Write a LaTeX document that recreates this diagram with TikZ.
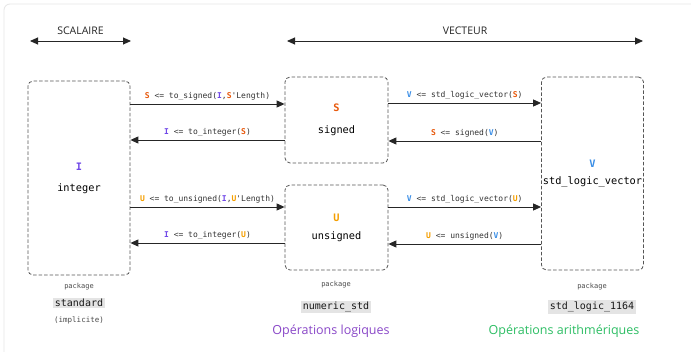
\documentclass[tikz,border=0pt]{standalone}
\usepackage{fontspec}
\setmainfont{Open Sans}
\setmonofont{DejaVu Sans Mono}
\usetikzlibrary{arrows.meta}
\definecolor{cS}{HTML}{E8590C}
\definecolor{cU}{HTML}{F59F00}
\definecolor{cI}{HTML}{7048E8}
\definecolor{cV}{HTML}{3A8EE6}
\definecolor{cLog}{HTML}{8A48C8}
\definecolor{cAri}{HTML}{2DBE64}
\definecolor{boxline}{HTML}{555555}
\definecolor{framec}{HTML}{E6E6E6}
\definecolor{pkgbg}{HTML}{E4E4E4}
\newcommand{\vS}{\textcolor{cS}{\bfseries S}}
\newcommand{\vU}{\textcolor{cU}{\bfseries U}}
\newcommand{\vI}{\textcolor{cI}{\bfseries I}}
\newcommand{\vV}{\textcolor{cV}{\bfseries V}}
\tikzset{
  typebox/.style={draw=boxline, line width=0.8pt, dash pattern=on 3.5pt off 2pt,
    rounded corners=5pt, align=center, inner sep=0pt,
    font=\ttfamily\fontsize{10.3}{12}\selectfont},
  conv/.style={draw=black!85, line width=0.9pt, -{Triangle[length=8pt,width=7pt]}},
  span/.style={draw=black!85, line width=0.9pt, {Triangle[length=8pt,width=7pt]}-{Triangle[length=8pt,width=7pt]}},
  lbl/.style={above=3pt, inner sep=0pt, text=black!80, font=\ttfamily\fontsize{8}{9.6}\selectfont},
  head/.style={inner sep=0pt, text=black!85, font=\fontsize{10.5}{12}\selectfont},
  pkg/.style={inner sep=0pt, text=black!70, font=\ttfamily\fontsize{7}{8}\selectfont},
  pkgname/.style={fill=pkgbg, inner sep=1.5pt, text=black!90, font=\ttfamily\fontsize{10}{12}\selectfont},
  ops/.style={inner sep=0pt, font=\fontsize{12.5}{15}\selectfont}
}
\begin{document}
\begin{tikzpicture}[x=1pt,y=-1pt]
\useasboundingbox (0,0) rectangle (691,351);
\fill[white] (0,0) rectangle (691,351);
% frame
\draw[framec, line width=0.8pt, rounded corners=6pt] (691,4) -- (4,4) -- (4,352);

% top spans
\coordinate (sa) at (30,41);
\coordinate (sb) at (131,41);
\coordinate (va) at (287,41);
\coordinate (vb) at (643,41);
\draw[span] (sa) -- node[head, above=6pt] (scal) {SCALAIRE} (sb);
\draw[span] (va) -- node[head, above=6pt] (vect) {VECTEUR} (vb);

% boxes
\node[typebox, minimum width=102pt, minimum height=194pt] (int) at (79,178)
  {\vI\\[9pt]integer};
\node[typebox, minimum width=103pt, minimum height=86pt] (sgn) at (336.5,120)
  {\vS\\[10pt]signed};
\node[typebox, minimum width=103pt, minimum height=85pt] (uns) at (336.5,227.5)
  {\vU\\[6pt]unsigned};
\node[typebox, minimum width=102pt, minimum height=193pt] (slv) at (592.5,173.5)
  {\vV\\[5pt]std\_logic\_vector};

% conversions integer <-> signed/unsigned
\draw[conv] (int.east |- 0,104) -- node[lbl] {\vS{} <= to\_signed(\vI,\vS'Length)} (sgn.west |- 0,104);
\draw[conv] (sgn.west |- 0,140) -- node[lbl] {\vI{} <= to\_integer(\vS)} (int.east |- 0,140);
\draw[conv] (int.east |- 0,207) -- node[lbl] {\vU{} <= to\_unsigned(\vI,\vU'Length)} (uns.west |- 0,207);
\draw[conv] (uns.west |- 0,243) -- node[lbl] {\vI{} <= to\_integer(\vU)} (int.east |- 0,243);

% conversions signed/unsigned <-> slv
\draw[conv] (sgn.east |- 0,103) -- node[lbl] {\vV{} <= std\_logic\_vector(\vS)} (slv.west |- 0,103);
\draw[conv] (slv.west |- 0,141) -- node[lbl] {\vS{} <= signed(\vV)} (sgn.east |- 0,141);
\draw[conv] (uns.east |- 0,207) -- node[lbl] {\vV{} <= std\_logic\_vector(\vU)} (slv.west |- 0,207);
\draw[conv] (slv.west |- 0,244) -- node[lbl] {\vU{} <= unsigned(\vV)} (uns.east |- 0,244);

% packages
\node[pkg] (p1) at (79,287) {package};
\node[pkgname] (n1) at (79,303) {standard};
\node[pkg, font=\ttfamily\fontsize{7.5}{9}\selectfont] (i1) at (79,320) {(implicite)};
\node[pkg] (p2) at (336,285) {package};
\node[pkgname] (n2) at (336,307) {numeric\_std};
\node[pkg] (p3) at (592,287) {package};
\node[pkgname] (n3) at (592,307) {std\_logic\_1164};

\node[ops, text=cLog] (o1) at (331,331) {Opérations logiques};
\node[ops, text=cAri] (o2) at (564,331) {Opérations arithmériques};
\end{tikzpicture}
\end{document}
